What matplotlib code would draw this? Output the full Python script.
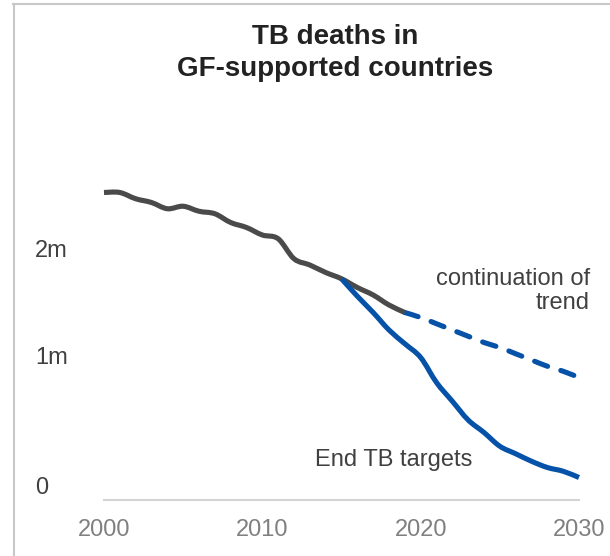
import numpy as np
import matplotlib
matplotlib.use("Agg")
import matplotlib.pyplot as plt
import matplotlib.transforms as mtransforms
from matplotlib.lines import Line2D
from matplotlib.path import Path
from matplotlib.patches import PathPatch

plt.rcParams["font.family"] = ["Liberation Sans", "DejaVu Sans"]

# TB deaths (millions)
hist_years = list(range(2000, 2020))
hist_deaths = [2.46, 2.46, 2.41, 2.38, 2.33, 2.35, 2.31, 2.29, 2.22, 2.18,
               2.12, 2.09, 1.93, 1.88, 1.82, 1.77, 1.70, 1.64, 1.56, 1.50]

target_years = list(range(2015, 2031))
target_deaths = [1.77, 1.63, 1.50, 1.36, 1.25, 1.14, 0.94, 0.79, 0.64, 0.54,
                 0.43, 0.37, 0.31, 0.26, 0.23, 0.18]

trend_years = list(range(2019, 2031))
trend_deaths = [1.50, 1.46, 1.41, 1.36, 1.31, 1.26, 1.22, 1.17, 1.12, 1.07,
                1.03, 0.98]

x_ticks = [2000, 2010, 2020, 2030]
y_labels = ["0", "1m", "2m"]
y_label_pos = [0.10, 1.14, 1.99]

title = "TB deaths in\nGF-supported countries"


def smooth_path(xs, ys):
    # Excel-style smoothed line: bezier segments through every data point
    pts = np.column_stack([xs, ys]).astype(float)
    verts = [pts[0]]
    codes = [Path.MOVETO]
    n = len(pts)
    for i in range(n - 1):
        p0 = pts[i - 1] if i > 0 else pts[i]
        p1, p2 = pts[i], pts[i + 1]
        p3 = pts[i + 2] if i + 2 < n else pts[i + 1]
        verts += [p1 + (p2 - p0) / 6, p2 - (p3 - p1) / 6, p2]
        codes += [Path.CURVE4] * 3
    return Path(verts, codes)


W, H = 610, 556
fig = plt.figure(figsize=(W / 100, H / 100), dpi=100)
ax = fig.add_axes([104 / W, (H - 500) / H, (579 - 104) / W, 350 / H])

dark = "#4a4a4a"
blue = "#0652a8"

series = [
    (hist_years, hist_deaths, dark, "solid", 3),
    (target_years, target_deaths, blue, "solid", 4),
    (trend_years, trend_deaths, blue, (0, (2.7, 2.7)), 2),
]
for xs, ys, col, ls, z in series:
    patch = PathPatch(smooth_path(xs, ys), fill=False, edgecolor=col, lw=3.7,
                      linestyle=ls, capstyle="butt" if ls == "solid" else "round",
                      joinstyle="round", clip_on=False, zorder=z)
    ax.add_patch(patch)

ax.set_xlim(2000, 2030)
ax.set_ylim(0, 2.8)
for s in ["top", "right", "left"]:
    ax.spines[s].set_visible(False)
ax.spines["bottom"].set_color("#d4d4d4")
ax.spines["bottom"].set_linewidth(1.5)

ax.set_xticks(x_ticks)
ax.tick_params(axis="x", length=0, pad=14, labelsize=17, labelcolor="#808080")
ax.set_yticks([])

trans = mtransforms.blended_transform_factory(fig.transFigure, ax.transData)
for lab, pos in zip(y_labels, y_label_pos):
    ax.text(35 / W, pos, lab, transform=trans, ha="left", va="center",
            fontsize=17, color="#404040")

ax.text(2030.7, 1.67, "continuation of\ntrend", ha="right", va="center",
        fontsize=17, color="#404040", linespacing=1.1)
ax.text(2018.3, 0.32, "End TB targets", ha="center", va="center",
        fontsize=17, color="#404040")

fig.text(335 / W, 1 - 53 / H, title, ha="center", va="center", fontsize=20,
         fontweight="bold", color="#222222", linespacing=1.25)

# grey frame at top and left edges
fig.add_artist(Line2D([13.5 / W, 13.5 / W], [0, 1 - 4 / H], color="#c8c8c8",
                      lw=1.5, transform=fig.transFigure))
fig.add_artist(Line2D([13 / W, 1], [1 - 4 / H, 1 - 4 / H], color="#c8c8c8",
                      lw=1.5, transform=fig.transFigure))

fig.savefig("out.png", dpi=100)
